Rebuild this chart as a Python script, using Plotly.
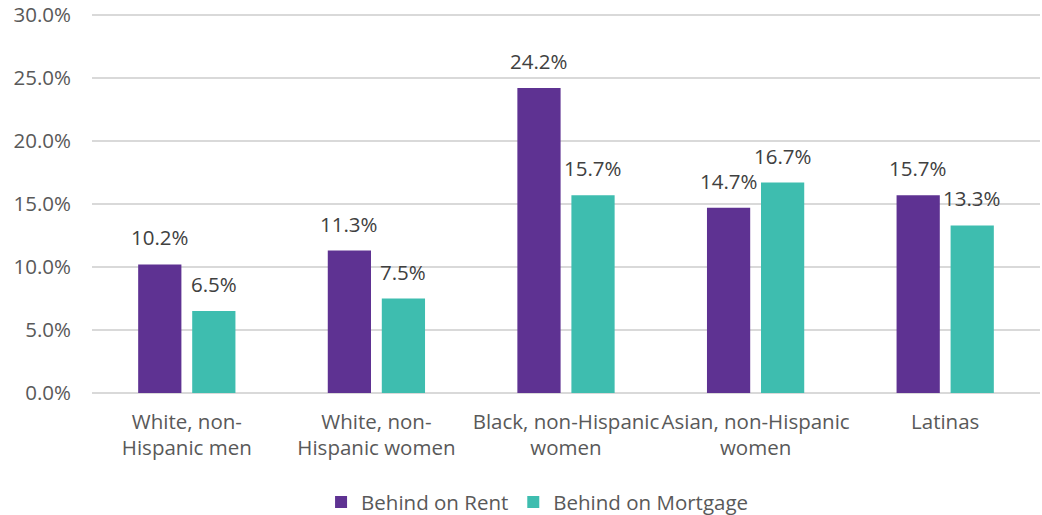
import plotly.graph_objects as go

categories = ["White, non-<br>Hispanic men", "White, non-<br>Hispanic women",
              "Black, non-Hispanic<br>women", "Asian, non-Hispanic<br>women", "Latinas"]
rent = [10.2, 11.3, 24.2, 14.7, 15.7]
mortgage = [6.5, 7.5, 15.7, 16.7, 13.3]
series_names = ["Behind on Rent", "Behind on Mortgage"]
colors = ["#5E3292", "#3EBDAF"]
tick_vals = [0, 5, 10, 15, 20, 25, 30]
tick_text = ["0.0%", "5.0%", "10.0%", "15.0%", "20.0%", "25.0%", "30.0%"]

FONT = "Open Sans"
FS = 20.5
fig = go.Figure()
for name, vals, col in zip(series_names, [rent, mortgage], colors):
    fig.add_trace(go.Bar(x=categories, y=vals, name=name, marker_color=col,
                         marker_line_width=0))

annotations = []
for i, vals in enumerate([rent, mortgage]):
    shift = -27 if i == 0 else 27
    for c, v in zip(categories, vals):
        annotations.append(dict(x=c, y=v, text=f"{v:.1f}%", showarrow=False,
                                xshift=shift, yshift=11, yanchor="bottom",
                                font=dict(family=FONT, size=FS, color="#404040")))

fig.update_layout(
    width=1042, height=515,
    margin=dict(l=92, r=2, t=14, b=122, autoexpand=False),
    plot_bgcolor="white", paper_bgcolor="white",
    barmode="group", bargap=0.43, bargroupgap=0.2,
    font=dict(family=FONT, size=FS, color="#595959"),
    annotations=annotations,
    legend=dict(orientation="h", x=0.47, xanchor="center", y=-0.288, yanchor="middle",
                font=dict(family=FONT, size=FS, color="#595959")),
    xaxis=dict(showgrid=False, showline=False, ticks="", ticklabelstandoff=14,
               automargin=False,
               tickfont=dict(family=FONT, size=FS, color="#595959")),
    yaxis=dict(range=[0, 30.08], tickvals=tick_vals, ticktext=tick_text,
               showgrid=True, gridcolor="#D9D9D9", gridwidth=1.5,
               zeroline=True, zerolinecolor="#D9D9D9", zerolinewidth=1.5,
               ticklabelstandoff=20, automargin=False,
               tickfont=dict(family=FONT, size=FS, color="#595959")),
)
fig.write_html("out.html", config={"displayModeBar": False},
               post_script="document.body.style.margin='0px';")
